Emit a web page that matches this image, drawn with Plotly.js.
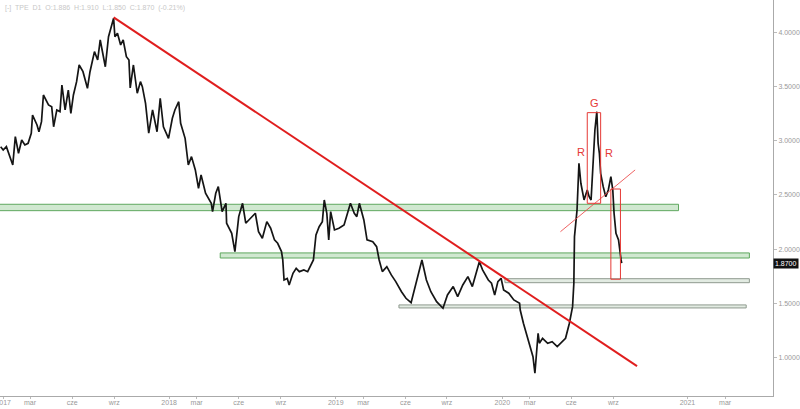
<!DOCTYPE html>
<html>
<head>
<meta charset="utf-8">
<script src="https://cdn.plot.ly/plotly-3.0.1.min.js"></script>
<style>html,body{margin:0;padding:0;background:#fff;}#chart{width:800px;height:409px;}</style>
</head>
<body>
<div id="chart"></div>
<script>
// TPE daily closes (approx.)
var dates = [
'2016-12-27','2017-01-02','2017-01-09','2017-01-16','2017-01-23','2017-01-27','2017-02-03','2017-02-10','2017-02-17','2017-02-24',
'2017-03-03','2017-03-07','2017-03-16','2017-03-21','2017-03-27','2017-03-30','2017-04-11','2017-04-18','2017-04-21','2017-04-28',
'2017-05-05','2017-05-10','2017-05-17','2017-05-24','2017-05-30','2017-06-05','2017-06-12','2017-06-16','2017-06-26','2017-07-05',
'2017-07-11','2017-07-20','2017-07-27','2017-08-02','2017-08-09','2017-08-14','2017-08-21','2017-08-31','2017-09-04','2017-09-08',
'2017-09-15','2017-09-21','2017-09-28','2017-10-04','2017-10-06','2017-10-13','2017-10-23','2017-10-30','2017-11-02','2017-11-06',
'2017-11-09','2017-11-16','2017-11-24','2017-12-05','2017-12-12','2017-12-19','2017-12-29',
'2018-01-08','2018-01-12','2018-01-22','2018-01-25','2018-02-05','2018-02-07','2018-02-12','2018-02-19','2018-02-27','2018-03-06',
'2018-03-12','2018-03-21','2018-03-27','2018-04-03','2018-04-05','2018-04-12','2018-04-18','2018-04-26','2018-05-04','2018-05-07',
'2018-05-17','2018-05-24','2018-06-01','2018-06-11','2018-06-18','2018-06-28','2018-07-09','2018-07-16','2018-07-24','2018-08-02',
'2018-08-10','2018-08-20','2018-08-27','2018-09-04','2018-09-06','2018-09-10','2018-09-17','2018-09-20','2018-09-28','2018-10-05',
'2018-10-12','2018-10-23','2018-10-31','2018-11-13','2018-11-19','2018-11-26','2018-12-03','2018-12-06','2018-12-12','2018-12-17',
'2018-12-20','2018-12-28',
'2019-01-08','2019-01-18','2019-01-25','2019-02-01','2019-02-11','2019-02-15','2019-02-21','2019-03-04','2019-03-11','2019-03-22',
'2019-04-01','2019-04-05','2019-04-12','2019-04-23','2019-05-02','2019-05-13','2019-05-24','2019-06-04','2019-06-14','2019-06-26',
'2019-07-09','2019-07-18','2019-07-29','2019-08-09','2019-08-23','2019-09-03','2019-09-16','2019-09-25','2019-10-07','2019-10-17',
'2019-10-28','2019-11-12','2019-11-19','2019-12-02','2019-12-09','2019-12-16','2019-12-23','2019-12-30',
'2020-01-03','2020-01-15','2020-01-27','2020-02-07','2020-02-10','2020-02-17','2020-02-25','2020-03-03','2020-03-09','2020-03-12',
'2020-03-16','2020-03-19','2020-03-23','2020-03-30','2020-04-09','2020-04-20','2020-04-30','2020-05-12','2020-05-19','2020-05-27',
'2020-06-03','2020-06-05','2020-06-08','2020-06-12','2020-06-17','2020-06-22','2020-06-29','2020-07-06','2020-07-09','2020-07-14',
'2020-07-20','2020-07-22','2020-07-27','2020-07-29','2020-07-31','2020-08-04','2020-08-10','2020-08-14','2020-08-20','2020-08-26',
'2020-08-31','2020-09-02','2020-09-07','2020-09-11','2020-09-17','2020-09-18'
];
var prices = [
2.946,2.915,2.946,2.854,2.777,3.038,2.885,3.008,2.962,2.977,
3.070,3.238,3.146,3.084,3.177,3.423,3.331,3.315,3.130,3.285,
3.270,3.515,3.285,3.469,3.254,3.423,3.546,3.700,3.638,3.485,
3.638,3.823,3.746,3.931,3.777,3.684,3.961,4.131,3.961,3.993,
3.885,3.931,3.777,3.746,3.488,3.700,3.439,3.546,3.500,3.423,
3.346,3.070,3.285,3.084,3.393,3.130,3.023,
3.208,3.285,3.361,3.162,3.023,2.931,2.777,2.854,2.731,2.562,
2.685,2.516,2.470,2.423,2.346,2.516,2.577,2.346,2.423,2.239,
2.146,1.977,2.300,2.423,2.239,2.285,2.331,2.161,2.100,2.254,
2.193,2.085,2.054,1.977,1.900,1.715,1.730,1.669,1.777,1.823,
1.792,1.808,1.792,1.900,2.131,2.207,2.254,2.454,2.331,2.085,
2.346,2.177,
2.193,2.223,2.331,2.423,2.331,2.300,2.423,2.269,2.085,2.069,
2.023,1.900,1.792,1.838,1.762,1.700,1.607,1.546,1.506,1.685,
1.900,1.715,1.607,1.515,1.454,1.577,1.654,1.561,1.669,1.746,
1.654,1.884,1.808,1.715,1.685,1.577,1.700,1.731,
1.623,1.593,1.531,1.500,1.438,1.316,1.192,1.100,1.007,0.854,
1.039,1.223,1.131,1.177,1.131,1.146,1.100,1.146,1.177,1.316,
1.469,1.685,2.115,2.362,2.793,2.608,2.454,2.546,2.484,2.454,
2.854,3.100,3.269,2.977,2.885,2.700,2.577,2.484,2.546,2.669,
2.546,2.331,2.146,2.085,1.900,1.870
];

// Horizontal zones [start, end, low, high]
var zoneStart = ['2016-12-01','2018-04-23','2020-01-07','2019-05-20'];
var zoneEnd   = ['2020-12-18','2021-04-08','2021-04-08','2021-04-03'];
var zoneLow   = [2.355, 1.918, 1.690, 1.457];
var zoneHigh  = [2.414, 1.965, 1.727, 1.485];

// Trend lines [x0, y0, x1, y1]
var trendMain = ['2017-08-31', 4.14, '2020-10-14', 0.92];
var trendNeck = ['2020-05-07', 2.161, '2020-10-11', 2.731];

// Highlight boxes
var boxStart = ['2020-07-06','2020-08-26'];
var boxEnd   = ['2020-08-04','2020-09-16'];
var boxLow   = [2.423, 1.722];
var boxHigh  = [3.260, 2.555];

// Letter labels
var labelText  = ['R','G','R'];
var labelDate  = ['2020-06-22','2020-07-22','2020-08-21'];
var labelPrice = [2.900, 3.352, 2.888];

// Axis ticks
var xTickVals = ['2017-01-02','2017-03-01','2017-06-01','2017-09-01','2018-01-01','2018-03-01','2018-06-01','2018-09-03',
                 '2019-01-01','2019-03-01','2019-06-03','2019-09-02','2020-01-01','2020-03-02','2020-06-01','2020-09-01',
                 '2021-01-01','2021-03-01'];
var xTickText = ['2017','mar','cze','wrz','2018','mar','cze','wrz','2019','mar','cze','wrz','2020','mar','cze','wrz','2021','mar'];
var yTickVals = [1.0,1.5,2.0,2.5,3.0,3.5,4.0];

var lastPrice = 1.87;
var header = '[-]  TPE  D1  O:1.886  H:1.910  L:1.850  C:1.870  (-0.21%)';

// weekends are skipped for the traded period only (future area is calendar time)
var brk = [];
var t = Date.UTC(2016,11,24), tEnd = Date.UTC(2020,8,19);
while (t <= tEnd) { brk.push(new Date(t).toISOString().slice(0,10)); t += 7*86400000; }

var shapes = [];
for (var i=0;i<zoneStart.length;i++){
  var green = i<2;
  shapes.push({type:'rect', xref:'x', yref:'y', x0:zoneStart[i], x1:zoneEnd[i], y0:zoneLow[i], y1:zoneHigh[i],
    fillcolor: green ? 'rgba(120,190,120,0.35)' : 'rgba(190,210,190,0.45)',
    line:{color: green ? '#5fa85f' : '#8f9a8f', width:1}, layer:'below'});
}
shapes.push({type:'line', xref:'x', yref:'y', x0:trendMain[0], y0:trendMain[1], x1:trendMain[2], y1:trendMain[3],
  line:{color:'#e01e1e', width:2}});
shapes.push({type:'line', xref:'x', yref:'y', x0:trendNeck[0], y0:trendNeck[1], x1:trendNeck[2], y1:trendNeck[3],
  line:{color:'rgba(235,70,70,0.85)', width:1}});
for (var j=0;j<boxStart.length;j++){
  shapes.push({type:'rect', xref:'x', yref:'y', x0:boxStart[j], x1:boxEnd[j], y0:boxLow[j], y1:boxHigh[j],
    fillcolor:'rgba(0,0,0,0)', line:{color:'#e53935', width:1}});
}

var annotations = [];
for (var k=0;k<labelText.length;k++){
  annotations.push({x:labelDate[k], y:labelPrice[k], xref:'x', yref:'y', text:labelText[k], showarrow:false,
    font:{family:'Arial, Liberation Sans, sans-serif', size:11, color:'#e53935'}});
}
annotations.push({x:1, xref:'paper', xanchor:'left', y:lastPrice, yref:'y', text:lastPrice.toFixed(4), showarrow:false,
  bgcolor:'#111', borderpad:1, font:{family:'Arial, Liberation Sans, sans-serif', size:7, color:'#fff'}});
annotations.push({x:0.004, xref:'paper', xanchor:'left', y:1, yref:'paper', yanchor:'top', yshift:-2, text:header, showarrow:false,
  font:{family:'Arial, Liberation Sans, sans-serif', size:7, color:'#c8c8c8'}});

var trace = {
  x: dates, y: prices, type:'scatter', mode:'lines', connectgaps:true,
  line:{color:'#151515', width:1.7}, hoverinfo:'skip'
};

var layout = {
  width:800, height:409,
  margin:{l:0, r:27, t:0, b:13},
  paper_bgcolor:'#fff', plot_bgcolor:'#fff',
  showlegend:false,
  xaxis:{type:'date', range:['2016-12-26','2021-05-15'], rangebreaks:[{values:brk, dvalue:2*86400000}],
    tickmode:'array', tickvals:xTickVals, ticktext:xTickText, showgrid:false, zeroline:false,
    showline:true, linecolor:'#aaa', linewidth:1, ticks:'outside', ticklen:2, tickcolor:'#bbb',
    ticklabeloverflow:'allow', ticklabelstandoff:-2,
    tickfont:{family:'Arial, Liberation Sans, sans-serif', size:7, color:'#999'}, fixedrange:true},
  yaxis:{side:'right', range:[0.644, 4.30], tickmode:'array', tickvals:yTickVals, tickformat:'.4f',
    showgrid:false, zeroline:false, showline:true, linecolor:'#aaa', linewidth:1, ticks:'outside', ticklen:3, tickcolor:'#bbb',
    tickfont:{family:'Arial, Liberation Sans, sans-serif', size:7, color:'#999'}, fixedrange:true},
  shapes:shapes, annotations:annotations
};

Plotly.newPlot('chart', [trace], layout, {displayModeBar:false, staticPlot:true});
</script>
</body>
</html>
